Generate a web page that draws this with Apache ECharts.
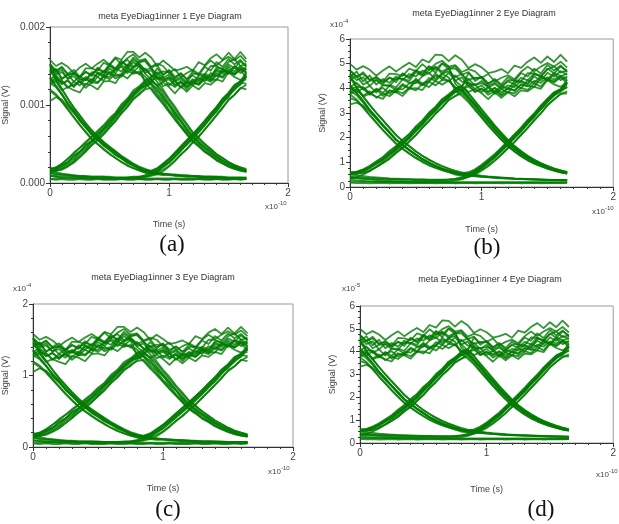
<!DOCTYPE html>
<html>
<head>
<meta charset="utf-8">
<script src="https://cdn.jsdelivr.net/npm/echarts@6/dist/echarts.min.js"></script>
<style>
html,body{margin:0;padding:0;background:#fff;}
#chart{width:619px;height:524px;}
</style>
</head>
<body>
<div id="chart"></div>
<script>
// Time samples, units of 1e-10 s
const TIME = [0,0.05,0.10,0.15,0.20,0.25,0.30,0.35,0.40,0.45,0.50,0.55,0.60,0.65,0.70,0.75,0.80,0.85,0.90,0.95,1.00,1.05,1.10,1.15,1.20,1.25,1.30,1.35,1.40,1.45,1.50,1.55,1.60,1.65];
const X_TICKS = [0,1,2];

// Family A traces (panels a, c): display units (a: mV, c: 1e-4 V), axis 0..2
const A_111 = [
 [1.53,1.43,1.49,1.39,1.41,1.36,1.47,1.47,1.44,1.54,1.51,1.60,1.52,1.60,1.65,1.57,1.59,1.49,1.53,1.50,1.41,1.46,1.36,1.41,1.45,1.40,1.50,1.57,1.51,1.57,1.62,1.57,1.63,1.55],
 [1.42,1.46,1.34,1.39,1.40,1.33,1.32,1.42,1.42,1.39,1.51,1.46,1.53,1.58,1.49,1.56,1.56,1.47,1.40,1.43,1.42,1.32,1.36,1.29,1.40,1.40,1.39,1.50,1.50,1.46,1.55,1.59,1.50,1.53],
 [1.43,1.36,1.27,1.32,1.23,1.33,1.33,1.30,1.41,1.36,1.36,1.45,1.49,1.41,1.49,1.52,1.44,1.48,1.35,1.33,1.35,1.31,1.23,1.31,1.28,1.38,1.37,1.35,1.48,1.46,1.41,1.50,1.45,1.48],
 [1.29,1.32,1.31,1.23,1.26,1.30,1.22,1.29,1.28,1.36,1.41,1.34,1.38,1.46,1.45,1.39,1.47,1.38,1.36,1.24,1.28,1.23,1.29,1.20,1.30,1.26,1.35,1.33,1.32,1.44,1.42,1.39,1.45,1.35],
 [1.27,1.30,1.19,1.23,1.19,1.16,1.27,1.25,1.20,1.30,1.31,1.28,1.39,1.34,1.42,1.41,1.31,1.33,1.25,1.29,1.23,1.15,1.24,1.17,1.25,1.20,1.28,1.26,1.33,1.30,1.42,1.36,1.32,1.37],
 [1.58,1.50,1.54,1.49,1.41,1.48,1.53,1.47,1.53,1.58,1.52,1.61,1.58,1.68,1.68,1.61,1.67,1.61,1.50,1.57,1.51,1.44,1.46,1.49,1.44,1.55,1.51,1.60,1.65,1.58,1.67,1.59,1.68,1.59],
 [1.33,1.38,1.31,1.22,1.30,1.25,1.34,1.28,1.36,1.31,1.43,1.37,1.40,1.49,1.42,1.50,1.41,1.45,1.33,1.36,1.25,1.31,1.22,1.29,1.25,1.35,1.30,1.41,1.37,1.46,1.40,1.49,1.41,1.46],
 [1.50,1.41,1.45,1.33,1.41,1.35,1.43,1.37,1.48,1.42,1.53,1.47,1.57,1.50,1.61,1.54,1.58,1.48,1.51,1.39,1.44,1.34,1.41,1.33,1.43,1.38,1.49,1.44,1.55,1.49,1.59,1.52,1.58,1.50]
];
const A_110 = [
 [1.40,1.46,1.33,1.39,1.30,1.37,1.32,1.40,1.36,1.44,1.40,1.47,1.43,1.52,1.47,1.53,1.45,1.38,1.30,1.20,1.08,0.98,0.86,0.76,0.65,0.58,0.50,0.44,0.37,0.32,0.27,0.23,0.20,0.17],
 [1.47,1.39,1.42,1.34,1.37,1.29,1.36,1.32,1.41,1.37,1.47,1.41,1.51,1.47,1.55,1.49,1.28,1.20,1.10,1.01,0.91,0.81,0.72,0.62,0.53,0.47,0.40,0.35,0.29,0.25,0.21,0.18,0.16,0.14],
 [1.30,1.35,1.27,1.31,1.24,1.30,1.26,1.33,1.29,1.37,1.33,1.40,1.36,1.44,1.40,1.43,1.36,1.27,1.21,1.08,1.00,0.87,0.79,0.67,0.59,0.51,0.45,0.38,0.33,0.28,0.24,0.20,0.17,0.16],
 [1.52,1.44,1.48,1.40,1.45,1.36,1.42,1.39,1.46,1.42,1.50,1.45,1.55,1.50,1.58,1.52,1.40,1.33,1.24,1.13,1.02,0.91,0.80,0.70,0.60,0.54,0.47,0.41,0.35,0.29,0.25,0.21,0.18,0.16]
];
const A_011 = [
 [0.18,0.20,0.25,0.31,0.39,0.45,0.53,0.59,0.67,0.74,0.83,0.90,1.01,1.08,1.19,1.24,1.32,1.36,1.42,1.35,1.39,1.30,1.34,1.27,1.33,1.30,1.38,1.34,1.44,1.40,1.49,1.43,1.50,1.45],
 [0.15,0.16,0.17,0.21,0.26,0.33,0.40,0.49,0.55,0.62,0.71,0.79,0.90,0.97,1.08,1.13,1.22,1.29,1.40,1.31,1.36,1.25,1.31,1.24,1.32,1.27,1.36,1.31,1.41,1.36,1.46,1.40,1.48,1.42],
 [0.19,0.18,0.23,0.27,0.35,0.40,0.49,0.54,0.63,0.69,0.79,0.86,0.97,1.04,1.15,1.21,1.29,1.34,1.47,1.38,1.45,1.36,1.40,1.33,1.38,1.32,1.40,1.37,1.46,1.42,1.52,1.47,1.56,1.49],
 [0.13,0.15,0.19,0.24,0.29,0.37,0.43,0.52,0.58,0.66,0.74,0.83,0.93,1.01,1.11,1.18,1.25,1.31,1.36,1.30,1.33,1.26,1.29,1.23,1.28,1.26,1.33,1.30,1.38,1.35,1.44,1.39,1.46,1.41]
];
const A_010 = [
 [0.17,0.20,0.24,0.31,0.37,0.45,0.51,0.59,0.65,0.73,0.81,0.89,0.99,1.07,1.16,1.23,1.29,1.30,1.26,1.17,1.06,0.95,0.84,0.74,0.64,0.57,0.50,0.43,0.37,0.32,0.27,0.23,0.20,0.18],
 [0.16,0.16,0.18,0.22,0.27,0.34,0.41,0.48,0.55,0.63,0.71,0.80,0.89,0.98,1.07,1.15,1.20,1.22,1.12,1.03,0.92,0.82,0.72,0.63,0.53,0.47,0.40,0.35,0.29,0.25,0.21,0.18,0.16,0.15],
 [0.18,0.18,0.21,0.27,0.31,0.40,0.45,0.54,0.59,0.69,0.75,0.86,0.93,1.05,1.11,1.22,1.24,1.28,1.18,1.11,0.99,0.90,0.79,0.69,0.59,0.52,0.45,0.40,0.33,0.29,0.24,0.21,0.18,0.16],
 [0.15,0.17,0.22,0.26,0.34,0.40,0.48,0.54,0.62,0.70,0.78,0.87,0.96,1.04,1.14,1.20,1.27,1.26,1.15,1.06,0.94,0.85,0.74,0.65,0.55,0.49,0.42,0.37,0.31,0.26,0.22,0.19,0.17,0.15]
];
const A_100 = [
 [1.45,1.32,1.20,1.08,0.97,0.87,0.77,0.68,0.60,0.53,0.47,0.41,0.35,0.30,0.25,0.21,0.18,0.15,0.13,0.12,0.11,0.11,0.10,0.10,0.09,0.09,0.08,0.08,0.08,0.08,0.07,0.07,0.07,0.07],
 [1.18,1.12,1.04,0.94,0.84,0.74,0.65,0.56,0.50,0.43,0.37,0.32,0.27,0.23,0.19,0.16,0.14,0.12,0.11,0.10,0.10,0.09,0.09,0.08,0.08,0.08,0.07,0.07,0.07,0.07,0.06,0.06,0.06,0.06],
 [1.35,1.24,1.14,1.01,0.92,0.80,0.72,0.62,0.56,0.48,0.43,0.36,0.32,0.26,0.23,0.18,0.16,0.13,0.12,0.11,0.11,0.10,0.09,0.09,0.09,0.08,0.08,0.08,0.07,0.07,0.07,0.07,0.07,0.06],
 [1.05,1.10,1.07,0.98,0.90,0.81,0.72,0.64,0.56,0.50,0.44,0.38,0.32,0.28,0.23,0.19,0.16,0.14,0.13,0.12,0.11,0.10,0.10,0.09,0.09,0.08,0.08,0.08,0.08,0.07,0.07,0.07,0.07,0.07]
];
const A_001 = [
 [0.09,0.09,0.08,0.08,0.08,0.07,0.07,0.07,0.07,0.07,0.07,0.07,0.07,0.07,0.08,0.08,0.10,0.13,0.18,0.24,0.31,0.39,0.47,0.55,0.62,0.71,0.79,0.89,0.97,1.08,1.15,1.25,1.30,1.38],
 [0.12,0.11,0.10,0.10,0.09,0.09,0.08,0.08,0.08,0.08,0.07,0.07,0.07,0.07,0.07,0.07,0.08,0.09,0.11,0.15,0.21,0.28,0.37,0.43,0.52,0.59,0.69,0.77,0.87,0.96,1.07,1.13,1.22,1.20],
 [0.05,0.06,0.06,0.06,0.06,0.06,0.06,0.06,0.06,0.06,0.06,0.06,0.06,0.07,0.07,0.07,0.08,0.10,0.14,0.20,0.26,0.33,0.42,0.49,0.57,0.65,0.74,0.83,0.92,1.02,1.12,1.19,1.27,1.40],
 [0.16,0.14,0.12,0.11,0.10,0.09,0.09,0.08,0.08,0.08,0.08,0.07,0.07,0.07,0.07,0.08,0.09,0.11,0.15,0.22,0.28,0.36,0.44,0.51,0.59,0.68,0.76,0.85,0.95,1.04,1.14,1.21,1.29,1.27]
];
const A_101 = [
 [1.52,1.34,1.21,1.08,0.96,0.86,0.76,0.67,0.59,0.52,0.46,0.40,0.34,0.29,0.24,0.20,0.17,0.16,0.19,0.25,0.31,0.39,0.47,0.55,0.63,0.71,0.80,0.89,0.98,1.08,1.16,1.26,1.30,1.42],
 [1.20,1.14,1.05,0.95,0.85,0.75,0.66,0.57,0.50,0.44,0.38,0.32,0.27,0.22,0.19,0.16,0.13,0.12,0.14,0.17,0.22,0.29,0.36,0.44,0.52,0.60,0.68,0.78,0.87,0.97,1.06,1.13,1.21,1.26],
 [1.35,1.25,1.14,1.01,0.91,0.80,0.71,0.62,0.55,0.48,0.42,0.36,0.31,0.26,0.22,0.18,0.15,0.14,0.16,0.21,0.26,0.34,0.41,0.50,0.57,0.66,0.74,0.84,0.92,1.04,1.10,1.22,1.26,1.36],
 [1.28,1.23,1.13,1.03,0.93,0.83,0.74,0.65,0.58,0.51,0.45,0.39,0.33,0.28,0.23,0.19,0.16,0.15,0.18,0.23,0.30,0.37,0.45,0.53,0.61,0.69,0.78,0.87,0.96,1.06,1.14,1.23,1.31,1.33]
];
const A_000 = [
 [0.05,0.04,0.05,0.04,0.04,0.05,0.04,0.04,0.05,0.04,0.04,0.04,0.05,0.04,0.04,0.05,0.04,0.04,0.05,0.04,0.04,0.05,0.04,0.04,0.04,0.05,0.04,0.04,0.05,0.04,0.04,0.05,0.04,0.05],
 [0.09,0.08,0.07,0.07,0.06,0.06,0.06,0.05,0.06,0.05,0.05,0.05,0.05,0.05,0.05,0.05,0.05,0.05,0.05,0.05,0.05,0.05,0.05,0.05,0.05,0.05,0.05,0.05,0.05,0.05,0.05,0.05,0.05,0.05],
 [0.13,0.12,0.11,0.10,0.09,0.08,0.08,0.07,0.07,0.06,0.06,0.06,0.06,0.06,0.06,0.06,0.06,0.06,0.06,0.06,0.06,0.06,0.06,0.06,0.06,0.06,0.06,0.06,0.06,0.06,0.06,0.06,0.06,0.06]
];

// Family B traces (panels b, d): display units (b: 1e-4 V, d: 1e-5 V), axis 0..6
const B_111 = [
 [4.74,4.45,4.65,4.35,4.42,4.27,4.60,4.58,4.50,4.80,4.70,4.98,4.75,4.99,5.12,4.88,4.94,4.66,4.78,4.69,4.43,4.58,4.28,4.43,4.53,4.37,4.67,4.88,4.69,4.88,5.03,4.88,5.08,4.84],
 [4.36,4.49,4.15,4.30,4.33,4.12,4.09,4.39,4.39,4.30,4.65,4.51,4.73,4.88,4.59,4.80,4.80,4.55,4.34,4.43,4.41,4.11,4.23,4.02,4.33,4.32,4.29,4.62,4.61,4.50,4.77,4.89,4.64,4.73],
 [4.40,4.20,3.95,4.10,3.83,4.13,4.13,4.04,4.37,4.22,4.21,4.49,4.62,4.38,4.60,4.69,4.45,4.59,4.20,4.14,4.21,4.09,3.85,4.09,3.98,4.27,4.24,4.18,4.56,4.51,4.36,4.63,4.50,4.59],
 [3.96,4.06,4.05,3.81,3.90,4.02,3.78,3.99,3.96,4.20,4.34,4.14,4.27,4.51,4.46,4.28,4.52,4.27,4.21,3.85,3.98,3.83,4.01,3.74,4.02,3.89,4.16,4.10,4.06,4.43,4.37,4.28,4.48,4.18],
 [3.87,3.97,3.66,3.78,3.66,3.57,3.90,3.84,3.69,3.99,4.01,3.93,4.27,4.12,4.34,4.31,4.01,4.09,3.85,3.97,3.80,3.56,3.83,3.62,3.84,3.68,3.92,3.88,4.06,3.98,4.34,4.16,4.06,4.21],
 [4.99,4.76,4.90,4.75,4.51,4.72,4.89,4.68,4.87,5.04,4.86,5.17,5.05,5.37,5.35,5.10,5.34,5.16,4.82,4.98,4.85,4.62,4.68,4.78,4.61,4.92,4.83,5.08,5.25,5.03,5.29,5.07,5.36,5.08],
 [4.05,4.22,3.98,3.75,3.99,3.82,4.10,3.92,4.18,4.01,4.39,4.20,4.30,4.61,4.35,4.63,4.31,4.45,4.08,4.17,3.85,4.04,3.78,3.97,3.83,4.15,4.00,4.33,4.22,4.49,4.30,4.58,4.33,4.48],
 [4.60,4.33,4.45,4.10,4.35,4.18,4.44,4.25,4.61,4.40,4.73,4.54,4.88,4.63,5.00,4.78,4.90,4.55,4.66,4.30,4.47,4.18,4.38,4.16,4.45,4.29,4.62,4.48,4.80,4.60,4.95,4.72,4.93,4.65]
];
const B_110 = [
 [4.45,4.68,4.28,4.52,4.15,4.38,4.22,4.48,4.35,4.58,4.48,4.72,4.60,4.85,4.68,4.82,4.30,4.08,3.78,3.46,3.12,2.81,2.48,2.19,1.90,1.66,1.45,1.27,1.10,0.97,0.86,0.76,0.67,0.61],
 [4.05,3.82,4.02,3.75,3.96,3.70,3.93,3.84,4.12,3.98,4.28,4.12,4.42,4.30,4.58,4.44,3.90,3.70,3.44,3.12,2.82,2.50,2.20,1.92,1.65,1.44,1.25,1.08,0.95,0.84,0.74,0.66,0.59,0.54],
 [4.72,4.48,4.58,4.32,4.47,4.25,4.42,4.35,4.58,4.46,4.72,4.62,4.90,4.75,5.02,4.88,4.18,3.95,3.60,3.34,2.96,2.68,2.33,2.07,1.77,1.57,1.34,1.19,1.01,0.91,0.78,0.71,0.61,0.56],
 [3.75,3.95,3.70,3.88,3.62,3.80,3.68,3.90,3.80,4.02,3.92,4.18,4.05,4.30,4.15,4.32,4.05,3.88,3.62,3.32,3.02,2.71,2.40,2.10,1.83,1.59,1.39,1.21,1.06,0.93,0.82,0.72,0.64,0.58]
];
const B_011 = [
 [0.58,0.62,0.72,0.86,1.04,1.22,1.46,1.66,1.93,2.15,2.46,2.70,3.02,3.26,3.56,3.76,3.98,4.10,4.38,4.12,4.30,4.02,4.18,3.96,4.12,4.05,4.30,4.18,4.48,4.32,4.63,4.47,4.70,4.55],
 [0.52,0.53,0.57,0.66,0.80,0.96,1.14,1.38,1.58,1.84,2.09,2.40,2.66,2.97,3.22,3.52,3.70,3.88,4.25,3.98,4.12,3.88,4.02,3.84,3.98,3.93,4.15,4.08,4.30,4.22,4.45,4.36,4.50,4.40],
 [0.60,0.59,0.68,0.78,0.97,1.13,1.36,1.55,1.83,2.03,2.36,2.59,2.93,3.15,3.49,3.68,3.94,4.05,4.62,4.38,4.46,4.20,4.33,4.10,4.28,4.17,4.43,4.32,4.62,4.46,4.80,4.61,4.88,4.72],
 [0.36,0.40,0.50,0.64,0.83,1.02,1.24,1.47,1.71,1.96,2.24,2.52,2.81,3.10,3.38,3.62,3.84,3.96,4.08,3.86,4.00,3.74,3.90,3.71,3.86,3.80,4.02,3.94,4.20,4.07,4.37,4.24,4.44,4.32]
];
const B_010 = [
 [0.56,0.60,0.70,0.83,1.01,1.19,1.42,1.63,1.90,2.13,2.43,2.68,2.99,3.23,3.55,3.72,3.98,4.06,3.82,3.48,3.16,2.82,2.50,2.19,1.91,1.66,1.45,1.26,1.10,0.96,0.85,0.75,0.67,0.60],
 [0.53,0.54,0.58,0.68,0.81,0.98,1.16,1.39,1.60,1.85,2.11,2.41,2.68,2.98,3.24,3.53,3.68,3.80,3.50,3.15,2.82,2.50,2.20,1.91,1.66,1.44,1.25,1.09,0.95,0.84,0.74,0.66,0.59,0.54],
 [0.58,0.57,0.66,0.76,0.95,1.09,1.33,1.51,1.79,1.99,2.32,2.55,2.89,3.10,3.45,3.62,3.90,3.96,3.68,3.36,3.00,2.69,2.36,2.07,1.79,1.56,1.36,1.18,1.03,0.91,0.80,0.71,0.63,0.57],
 [0.55,0.58,0.64,0.78,0.93,1.13,1.32,1.56,1.78,2.05,2.30,2.60,2.87,3.17,3.42,3.70,3.86,3.92,3.60,3.25,2.92,2.60,2.28,2.00,1.73,1.50,1.31,1.14,0.99,0.87,0.77,0.68,0.61,0.55]
];
const B_100 = [
 [4.45,4.02,3.66,3.32,3.00,2.70,2.40,2.10,1.86,1.65,1.44,1.26,1.10,0.96,0.84,0.74,0.66,0.59,0.54,0.50,0.46,0.43,0.41,0.39,0.37,0.35,0.34,0.33,0.32,0.31,0.30,0.29,0.29,0.28],
 [3.60,3.50,3.22,2.90,2.60,2.30,2.02,1.75,1.54,1.35,1.17,1.01,0.88,0.77,0.68,0.60,0.54,0.50,0.46,0.43,0.41,0.39,0.37,0.35,0.34,0.33,0.32,0.31,0.30,0.29,0.28,0.28,0.27,0.27],
 [4.10,3.82,3.50,3.13,2.84,2.51,2.24,1.91,1.72,1.49,1.32,1.12,0.99,0.84,0.75,0.64,0.58,0.52,0.48,0.45,0.42,0.40,0.38,0.36,0.35,0.33,0.32,0.31,0.30,0.30,0.29,0.28,0.28,0.27],
 [3.35,3.42,3.30,3.05,2.76,2.48,2.19,1.92,1.70,1.50,1.31,1.13,0.98,0.86,0.75,0.66,0.59,0.53,0.49,0.46,0.43,0.41,0.39,0.37,0.36,0.34,0.33,0.32,0.31,0.30,0.29,0.29,0.28,0.28]
];
const B_001 = [
 [0.36,0.35,0.34,0.33,0.32,0.31,0.30,0.30,0.29,0.29,0.28,0.28,0.28,0.28,0.28,0.29,0.33,0.40,0.50,0.66,0.84,1.08,1.28,1.57,1.82,2.11,2.37,2.70,2.95,3.30,3.55,3.84,3.96,4.22],
 [0.42,0.40,0.38,0.37,0.35,0.34,0.33,0.32,0.31,0.31,0.30,0.30,0.29,0.29,0.29,0.30,0.31,0.33,0.40,0.49,0.66,0.84,1.06,1.30,1.58,1.82,2.12,2.40,2.72,2.98,3.33,3.54,3.78,3.80],
 [0.22,0.22,0.22,0.21,0.21,0.21,0.21,0.21,0.21,0.21,0.21,0.21,0.21,0.22,0.22,0.23,0.26,0.31,0.42,0.56,0.75,0.97,1.19,1.45,1.72,1.98,2.26,2.56,2.86,3.15,3.45,3.70,3.90,4.25],
 [0.50,0.47,0.44,0.41,0.39,0.37,0.35,0.34,0.33,0.32,0.31,0.31,0.30,0.30,0.30,0.31,0.33,0.37,0.46,0.60,0.79,1.01,1.24,1.50,1.76,2.03,2.31,2.61,2.90,3.20,3.50,3.74,3.94,4.05]
];
const B_101 = [
 [4.55,4.05,3.68,3.33,3.01,2.71,2.41,2.11,1.87,1.66,1.45,1.27,1.11,0.97,0.85,0.75,0.62,0.56,0.60,0.72,0.90,1.12,1.34,1.60,1.87,2.14,2.42,2.72,3.00,3.30,3.58,3.83,3.97,4.35],
 [3.75,3.55,3.24,2.92,2.62,2.32,2.04,1.77,1.56,1.37,1.19,1.03,0.89,0.78,0.68,0.60,0.50,0.45,0.48,0.56,0.70,0.88,1.08,1.32,1.57,1.83,2.10,2.40,2.69,2.99,3.30,3.56,3.76,3.88],
 [4.15,3.80,3.48,3.12,2.81,2.51,2.21,1.90,1.69,1.50,1.30,1.12,0.97,0.84,0.73,0.64,0.55,0.50,0.53,0.64,0.79,1.00,1.19,1.46,1.71,1.99,2.25,2.57,2.84,3.16,3.44,3.72,3.86,4.05],
 [3.90,3.72,3.42,3.10,2.80,2.50,2.20,1.93,1.71,1.51,1.32,1.14,0.99,0.86,0.75,0.66,0.57,0.51,0.56,0.68,0.86,1.06,1.28,1.53,1.80,2.06,2.35,2.64,2.93,3.23,3.52,3.77,3.93,4.15]
];
const B_000 = [
 [0.18,0.16,0.17,0.15,0.16,0.17,0.15,0.16,0.17,0.15,0.16,0.16,0.17,0.15,0.16,0.17,0.15,0.16,0.17,0.15,0.16,0.16,0.17,0.15,0.16,0.17,0.15,0.16,0.17,0.15,0.16,0.17,0.16,0.17],
 [0.30,0.27,0.25,0.23,0.22,0.21,0.20,0.19,0.19,0.18,0.18,0.18,0.18,0.18,0.18,0.18,0.18,0.18,0.18,0.18,0.18,0.18,0.18,0.18,0.18,0.18,0.18,0.18,0.18,0.18,0.18,0.18,0.18,0.18],
 [0.40,0.36,0.33,0.30,0.28,0.26,0.25,0.24,0.23,0.22,0.22,0.21,0.21,0.21,0.20,0.20,0.20,0.20,0.20,0.20,0.20,0.20,0.20,0.20,0.20,0.20,0.20,0.20,0.20,0.20,0.20,0.20,0.20,0.20]
];

const TITLES = ['meta EyeDiag1inner 1 Eye Diagram','meta EyeDiag1inner 2 Eye Diagram','meta EyeDiag1inner 3 Eye Diagram','meta EyeDiag1inner 4 Eye Diagram'];
const CAPTIONS = ['(a)','(b)','(c)','(d)'];
const Y_MAX = [2, 6, 2, 6];
const Y_EXP = [null, '-4', '-4', '-5'];
const X_EXP = '-10';

const FAMILY_A = [A_111, A_110, A_011, A_010, A_100, A_001, A_101, A_000];
const FAMILY_B = [B_111, B_110, B_011, B_010, B_100, B_001, B_101, B_000];
const PANEL_DATA = [FAMILY_A, FAMILY_B, FAMILY_A, FAMILY_B];

// layout
const GRIDS = [
  {left: 50, top: 27, width: 238, height: 156},
  {left: 350, top: 39, width: 266, height: 148},
  {left: 33, top: 304, width: 260, height: 143},
  {left: 360, top: 306, width: 257, height: 137}
];
const LAYOUT = [
  {title:[170,17], xexp:[265,207], yexp:null, xname:37, yname:40, cap:[172,245]},
  {title:[484,14], xexp:[592,212], yexp:[330,25], xname:38, yname:23, cap:[487,248]},
  {title:[163,278], xexp:[268,472], yexp:[13,289], xname:37, yname:23, cap:[168,510]},
  {title:[490,280], xexp:[596,475], yexp:[342,289], xname:42, yname:23, cap:[541,510]}
];

const FONT = '"Liberation Sans", Arial, sans-serif';
const GREEN = 'rgba(0,122,0,0.8)';

const chart = echarts.init(document.getElementById('chart'), null, {renderer:'canvas'});

const grid = [], xAxis = [], yAxis = [], series = [], graphic = [];
GRIDS.forEach((g, k) => {
  grid.push(Object.assign({show: true, borderColor: '#9a9a9a', borderWidth: 1, backgroundColor: '#fff'}, g));
  xAxis.push({
    type: 'value', gridIndex: k, min: X_TICKS[0], max: X_TICKS[X_TICKS.length-1], interval: 1,
    name: 'Time (s)', nameLocation: 'middle', nameGap: LAYOUT[k].xname,
    nameTextStyle: {fontSize: 9, color: '#444', fontFamily: FONT},
    axisLine: {show: true, onZero: false, lineStyle: {color: '#333', width: 1}},
    axisTick: {show: true, length: 4, lineStyle: {color: '#333'}},
    minorTick: {show: true, splitNumber: 10, length: 2, lineStyle: {color: '#333'}},
    splitLine: {show: false},
    axisLabel: {fontSize: 10, color: '#444', fontFamily: FONT, margin: 5}
  });
  const ymax = Y_MAX[k];
  yAxis.push({
    type: 'value', gridIndex: k, min: 0, max: ymax, interval: 1,
    name: 'Signal (V)', nameLocation: 'middle', nameGap: LAYOUT[k].yname, nameRotate: 90,
    nameTextStyle: {fontSize: 9, color: '#444', fontFamily: FONT},
    axisLine: {show: true, lineStyle: {color: '#333', width: 1}},
    axisTick: {show: true, length: 4, lineStyle: {color: '#333'}},
    minorTick: {show: true, splitNumber: ymax === 2 ? 5 : 4, length: 2, lineStyle: {color: '#333'}},
    splitLine: {show: false},
    axisLabel: {fontSize: 10, color: '#444', fontFamily: FONT, margin: 5,
      formatter: k === 0 ? (v => (v / 1000).toFixed(3)) : (v => String(v))}
  });
  PANEL_DATA[k].forEach(group => {
    group.forEach(trace => {
      series.push({
        type: 'line', xAxisIndex: k, yAxisIndex: k,
        data: TIME.map((t, i) => [t, trace[i]]),
        showSymbol: false, symbol: 'none', silent: true, animation: false,
        lineStyle: {color: GREEN, width: 1.8, join: 'round'}
      });
    });
  });
  const L = LAYOUT[k];
  graphic.push({type:'text', x: L.title[0], y: L.title[1], style:{text: TITLES[k], fill:'#333', font:'9px ' + FONT, textAlign:'center', textVerticalAlign:'middle', verticalAlign:'middle'}});
  graphic.push({type:'text', x: L.xexp[0], y: L.xexp[1], style:{text: 'x10', fill:'#444', font:'8px ' + FONT, textAlign:'left', textVerticalAlign:'middle', verticalAlign:'middle'}});
  graphic.push({type:'text', x: L.xexp[0] + 13, y: L.xexp[1] - 4, style:{text: X_EXP, fill:'#444', font:'6px ' + FONT, textAlign:'left', textVerticalAlign:'middle', verticalAlign:'middle'}});
  if (Y_EXP[k]) {
    graphic.push({type:'text', x: L.yexp[0], y: L.yexp[1], style:{text: 'x10', fill:'#444', font:'8px ' + FONT, textAlign:'left', textVerticalAlign:'middle', verticalAlign:'middle'}});
    graphic.push({type:'text', x: L.yexp[0] + 13, y: L.yexp[1] - 4, style:{text: Y_EXP[k], fill:'#444', font:'6px ' + FONT, textAlign:'left', textVerticalAlign:'middle', verticalAlign:'middle'}});
  }
  graphic.push({type:'text', x: L.cap[0], y: L.cap[1], style:{text: CAPTIONS[k], fill:'#111', font:'23px "Liberation Serif", "Times New Roman", serif', textAlign:'center', textVerticalAlign:'middle', verticalAlign:'middle'}});
});

chart.setOption({
  backgroundColor: '#fff',
  animation: false,
  grid, xAxis, yAxis, series, graphic
});
</script>
</body>
</html>
